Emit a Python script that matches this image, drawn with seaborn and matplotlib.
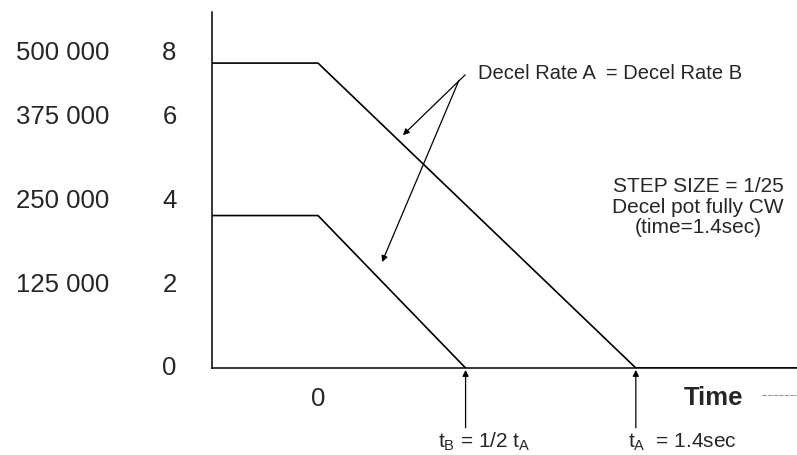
import matplotlib
matplotlib.use('Agg')
import matplotlib.pyplot as plt
import matplotlib.transforms as mtransforms
import pandas as pd
import seaborn as sns

# motor speed profiles (time in seconds, speed in "units")
time_a = [-0.467, 0.0, 1.4, 2.11]
speed_a = [8, 8, 0, 0]
time_b = [-0.467, 0.0, 0.65]
speed_b = [4, 4, 0]

# y axis labels: steps/sec column and scale column
y_ticks = [0, 2, 4, 6, 8]
y_labels_left = ['', '125 000', '250 000', '375 000', '500 000']
y_labels_right = ['0', '2', '4', '6', '8']

t_a = 1.4
t_b = 0.65

sns.set_style('white')
plt.rcParams['font.family'] = ['Liberation Sans', 'DejaVu Sans']
plt.rcParams['mathtext.fontset'] = 'custom'
plt.rcParams['mathtext.rm'] = 'Liberation Sans'

df = pd.concat([
    pd.DataFrame({'time': time_a, 'speed': speed_a, 'rate': 'A'}),
    pd.DataFrame({'time': time_b, 'speed': speed_b, 'rate': 'B'}),
])

fig = plt.figure(figsize=(7.97, 4.55), dpi=100)
ax = fig.add_axes([0.266, 0.1912, 0.734, 0.7824])

sns.lineplot(data=df, x='time', y='speed', units='rate', estimator=None,
             color='black', lw=1.2, sort=False, ax=ax)

ax.set_xlim(-0.467, 2.11)
ax.set_ylim(0, 9.34)
for s in ['top', 'right']:
    ax.spines[s].set_visible(False)
for s in ['left', 'bottom']:
    ax.spines[s].set_color('black')
    ax.spines[s].set_linewidth(1.1)

ax.set_yticks(y_ticks)
ax.set_yticklabels([])
ax.tick_params(axis='y', direction='inout', length=4, width=0.8, color='black')
ax.set_xticks([0])
ax.set_xticklabels(['0'], fontsize=18.5)
ax.tick_params(axis='x', length=0, pad=14)
ax.set_xlabel('')
ax.set_ylabel('')

# two columns of y labels (hand drawn original: labels sit a little above the ticks)
label_nudge_px = [0, 7, 15, 22, 10]
trans = mtransforms.blended_transform_factory(ax.transAxes, ax.transData)
for v, l1, l2, dy in zip(y_ticks, y_labels_left, y_labels_right, label_nudge_px):
    for xa, lab in [(-0.2547, l1), (-0.0726, l2)]:
        ax.annotate(lab, xy=(xa, v), xycoords=trans, xytext=(0, dy * 0.72),
                    textcoords='offset points', ha='center', va='center',
                    fontsize=18.5, annotation_clip=False)

# time label and dash
ax.text(1.74, -0.78, 'Time', fontsize=18.5, fontweight='bold', ha='center', va='center')
ax.plot([0.94, 1.0], [-0.076, -0.076], transform=ax.transAxes, color='0.6',
        lw=0.8, ls='--', dashes=(4, 1), clip_on=False)

# arrows at t_b and t_a
arrow = dict(arrowstyle='-|>', lw=0.9, color='black', mutation_scale=9,
             shrinkA=0, shrinkB=0)
ax.annotate('', xy=(t_b, -0.05), xytext=(t_b, -1.57), arrowprops=arrow, annotation_clip=False)
ax.annotate('', xy=(t_a, -0.05), xytext=(t_a, -1.57), arrowprops=arrow, annotation_clip=False)
ax.text(0.529, -2.1, r'$\mathregular{t_B}$ = 1/2 $\mathregular{t_A}$', ha='left', va='baseline',
        fontsize=15, clip_on=False)
ax.text(1.366, -2.1, r'$\mathregular{t_A}$  = 1.4sec', ha='left', va='baseline',
        fontsize=15, clip_on=False)

# decel rate callout
ax.text(0.705, 7.72, 'Decel Rate A  = Decel Rate B', ha='left', va='center', fontsize=14.5)
ax.annotate('', xy=(0.374, 6.11), xytext=(0.648, 7.69), arrowprops=arrow)
ax.annotate('', xy=(0.282, 2.78), xytext=(0.621, 7.55), arrowprops=arrow)

ax.text(1.674, 4.22, 'STEP SIZE = 1/25\nDecel pot fully CW\n(time=1.4sec)',
        ha='center', va='center', fontsize=15, linespacing=1.1)

fig.savefig('out.png', dpi=100)
